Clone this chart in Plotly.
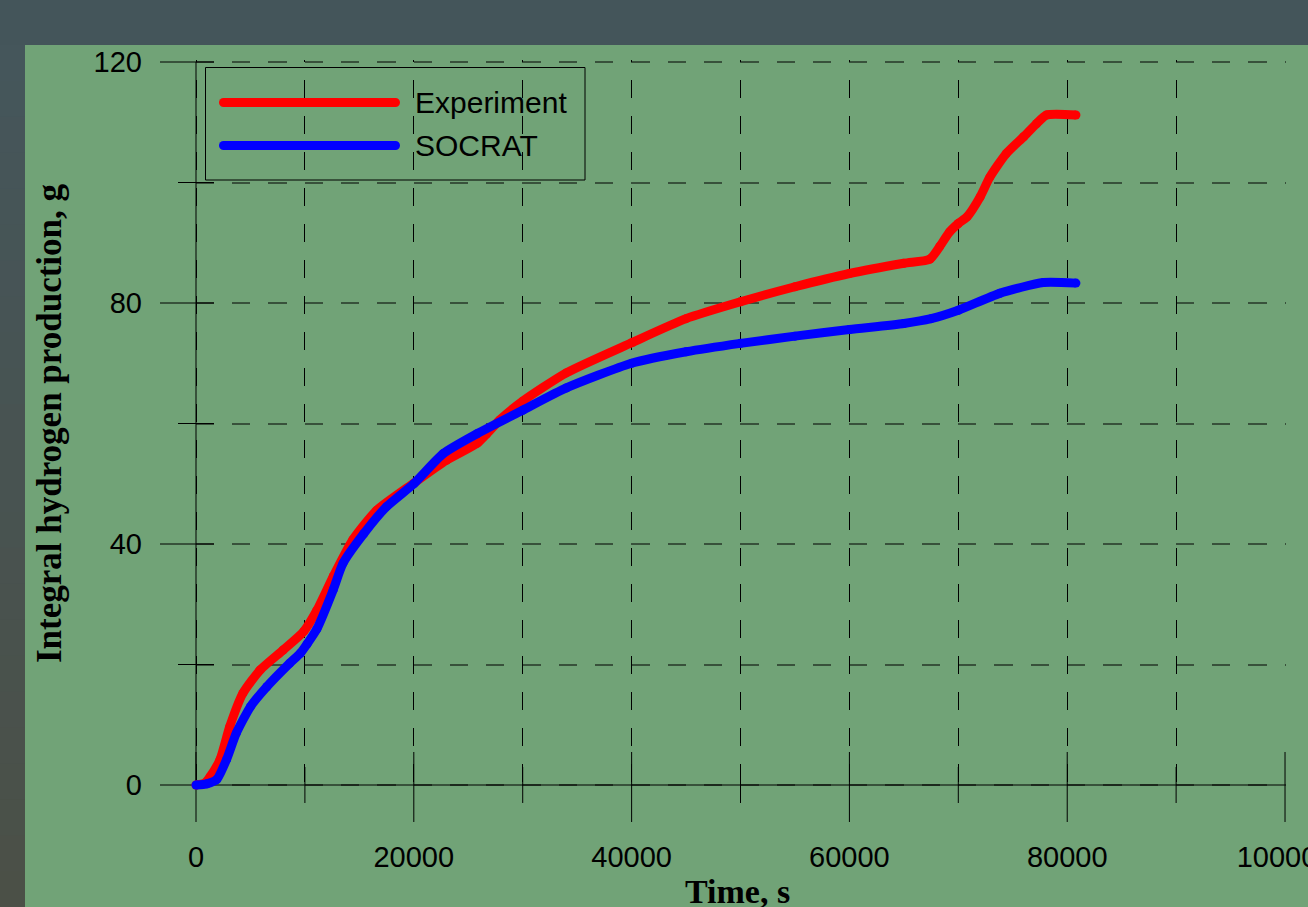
import plotly.graph_objects as go

# Integral hydrogen production (g) against time (s)
time_exp = [0, 800, 1300, 2200, 3100, 4300, 5900, 8000, 9900, 11100, 12600, 14400,
            16600, 20000, 23000, 25800, 26700, 27900, 30000, 34000, 40000, 45000,
            50000, 55000, 60000, 65000, 67400, 68300, 69200, 70000, 70800, 72000,
            72900, 74400, 76000, 77200, 78100, 80800]
h2_exp = [0, 0.3, 1.4, 4.2, 9.7, 15.2, 19.1, 22.4, 25.5, 29.0, 34.6, 40.7,
          45.6, 50.1, 53.9, 56.7, 58.3, 60.6, 63.7, 68.4, 73.4, 77.4,
          80.2, 82.7, 84.9, 86.6, 87.3, 89.4, 91.8, 93.2, 94.3, 97.6,
          100.9, 104.8, 107.6, 109.8, 111.2, 111.2]

time_socrat = [0, 1000, 1900, 2800, 3700, 5000, 6500, 8600, 9600, 10200, 11100,
               12600, 13500, 15400, 17500, 20000, 22700, 25800, 30000, 34000,
               40000, 45000, 50000, 55000, 60000, 65000, 67500, 70000, 73800,
               77800, 80800]
h2_socrat = [0, 0.2, 0.9, 4.2, 8.6, 13.0, 16.3, 20.2, 21.9, 23.4, 25.9,
             32.4, 36.8, 41.7, 46.2, 50.0, 55.0, 58.3, 62.2, 65.9,
             70.0, 71.9, 73.3, 74.5, 75.6, 76.6, 77.4, 78.8, 81.6,
             83.4, 83.3]

series_names = ["Experiment", "SOCRAT"]
series_colors = ["#ff0000", "#0000ff"]

x_major = [0, 20000, 40000, 60000, 80000, 100000]
x_minor = [10000, 30000, 50000, 70000, 90000]
y_major = [0, 40, 80, 120]
y_minor = [20, 60, 100]

x_title = "Time, s"
y_title = "Integral hydrogen production, g"

# ---- page geometry ----
W, H = 1308, 907
M = dict(l=178, r=22, t=60, b=113)
X_RANGE = [-1653, 100090]
Y_RANGE = [-1.494, 120.332]
PLOT_W = W - M["l"] - M["r"]
PLOT_H = H - M["t"] - M["b"]

SLATE = "#44555a"
PANEL = "#71a377"
LINE_W = 9


def px_x(p):
    """page pixel -> paper x"""
    return (p - M["l"]) / PLOT_W


def px_y(p):
    """page pixel -> paper y"""
    return (H - M["b"] - p) / PLOT_H


x0_paper = (0 - X_RANGE[0]) / (X_RANGE[1] - X_RANGE[0])
y0_paper = (0 - Y_RANGE[0]) / (Y_RANGE[1] - Y_RANGE[0])

fig = go.Figure()

for t, h, name, color in [(time_exp, h2_exp, series_names[0], series_colors[0]),
                          (time_socrat, h2_socrat, series_names[1], series_colors[1])]:
    fig.add_trace(go.Scatter(
        x=t, y=h, name=name, mode="lines+markers",
        line=dict(color=color, width=LINE_W, shape="spline", smoothing=0.6),
        marker=dict(color=color, size=LINE_W, line=dict(width=0)),
        cliponaxis=False, showlegend=False, hoverinfo="skip",
    ))

shapes = []

# slide background: slate strip on the left fading slightly towards the bottom
n_steps = 24
c_top = (69, 86, 91)
c_bot = (75, 80, 71)
for i in range(n_steps):
    f = (i + 0.5) / n_steps
    col = tuple(round(a + (b - a) * f) for a, b in zip(c_top, c_bot))
    y_a = 45 + (H - 45) * i / n_steps
    y_b = 45 + (H - 45) * (i + 1) / n_steps + 1
    shapes.append(dict(type="rect", xref="paper", yref="paper", layer="below",
                       x0=px_x(0), x1=px_x(25), y0=px_y(y_b), y1=px_y(y_a),
                       fillcolor="rgb(%d,%d,%d)" % col, line=dict(width=0)))

# green chart panel
shapes.append(dict(type="rect", xref="paper", yref="paper", layer="below",
                   x0=px_x(25), x1=px_x(W + 5), y0=px_y(H + 5), y1=px_y(45),
                   fillcolor=PANEL, line=dict(width=0)))

tick_line = dict(color="black", width=1)

# x ticks crossing the axis
for v in x_major:
    shapes.append(dict(type="line", xref="x", yref="paper", layer="below",
                       x0=v, x1=v, ysizemode="pixel", yanchor=y0_paper,
                       y0=-37, y1=33, line=tick_line))
for v in x_minor:
    shapes.append(dict(type="line", xref="x", yref="paper", layer="below",
                       x0=v, x1=v, ysizemode="pixel", yanchor=y0_paper,
                       y0=-18, y1=18, line=tick_line))

# y ticks crossing the axis
for v in y_major:
    shapes.append(dict(type="line", xref="paper", yref="y", layer="below",
                       y0=v, y1=v, xsizemode="pixel", xanchor=x0_paper,
                       x0=-36, x1=18, line=tick_line))
for v in y_minor:
    shapes.append(dict(type="line", xref="paper", yref="y", layer="below",
                       y0=v, y1=v, xsizemode="pixel", xanchor=x0_paper,
                       x0=-18, x1=18, line=tick_line))

# axis lines through the origin
shapes.append(dict(type="line", xref="x", yref="y", layer="below",
                   x0=0, x1=x_major[-1], y0=0, y1=0, line=tick_line))
shapes.append(dict(type="line", xref="x", yref="y", layer="below",
                   x0=0, x1=0, y0=0, y1=y_major[-1], line=tick_line))

# legend frame and sample lines
shapes.append(dict(type="rect", xref="paper", yref="paper",
                   x0=px_x(205.5), x1=px_x(585), y0=px_y(180), y1=px_y(67.5),
                   line=dict(color="black", width=1), fillcolor="rgba(0,0,0,0)"))
annotations = []
for row, (name, color) in enumerate(zip(series_names, series_colors)):
    yc = 102.5 + 43 * row
    xa, xb = 223.5, 395.5
    shapes.append(dict(type="line", xref="paper", yref="paper",
                       x0=px_x(xa), x1=px_x(xb), y0=px_y(yc), y1=px_y(yc),
                       line=dict(color=color, width=LINE_W)))
    for xc in (xa, xb):
        r = LINE_W / 2
        shapes.append(dict(type="circle", xref="paper", yref="paper",
                           x0=px_x(xc - r), x1=px_x(xc + r),
                           y0=px_y(yc + r), y1=px_y(yc - r),
                           fillcolor=color, line=dict(width=0)))
    annotations.append(dict(xref="paper", yref="paper", x=px_x(413), y=px_y(yc),
                            xanchor="left", yanchor="middle", showarrow=False,
                            text=name,
                            font=dict(family="Liberation Sans", size=30, color="black")))

# axis titles
annotations.append(dict(xref="paper", yref="paper", x=px_x(49), y=px_y(423),
                        xanchor="center", yanchor="middle", showarrow=False,
                        textangle=-90, text="<b>%s</b>" % y_title,
                        font=dict(family="Liberation Serif", size=35, color="black")))
annotations.append(dict(xref="paper", yref="paper", x=px_x(737), y=px_y(891),
                        xanchor="center", yanchor="middle", showarrow=False,
                        text="<b>%s</b>" % x_title,
                        font=dict(family="Liberation Serif", size=34, color="black")))

tick_font = dict(family="Liberation Sans", size=29, color="black")

fig.update_layout(
    width=W, height=H,
    margin=M,
    paper_bgcolor=SLATE,
    plot_bgcolor="rgba(0,0,0,0)",
    showlegend=False,
    shapes=shapes,
    annotations=annotations,
    xaxis=dict(
        range=X_RANGE, tickmode="array", tickvals=x_major,
        ticktext=[str(v) for v in x_major], ticks="", ticklabelstandoff=43,
        ticklabeloverflow="allow",
        tickfont=tick_font, showline=False, zeroline=False, automargin=False,
        showgrid=True, gridcolor="#000000", gridwidth=1, griddash="2px,18px,16px,0px",
        minor=dict(tickmode="array", tickvals=x_minor, ticks="", showgrid=True,
                   gridcolor="#000000", gridwidth=1, griddash="2px,18px,16px,0px"),
        fixedrange=True,
    ),
    yaxis=dict(
        range=Y_RANGE, tickmode="array", tickvals=y_major,
        ticktext=[str(v) for v in y_major], ticks="", ticklabelstandoff=35,
        ticklabeloverflow="allow",
        tickfont=tick_font, showline=False, zeroline=False, automargin=False,
        showgrid=True, gridcolor="rgba(0,0,0,0.5)", gridwidth=2,
        griddash="0px,17.7px,18.3px,0.3px",
        minor=dict(tickmode="array", tickvals=y_minor, ticks="", showgrid=True,
                   gridcolor="rgba(0,0,0,0.5)", gridwidth=2,
                   griddash="0px,17.7px,18.3px,0.3px"),
        fixedrange=True,
    ),
)

fig.write_html("out.html", config={"displayModeBar": False})
